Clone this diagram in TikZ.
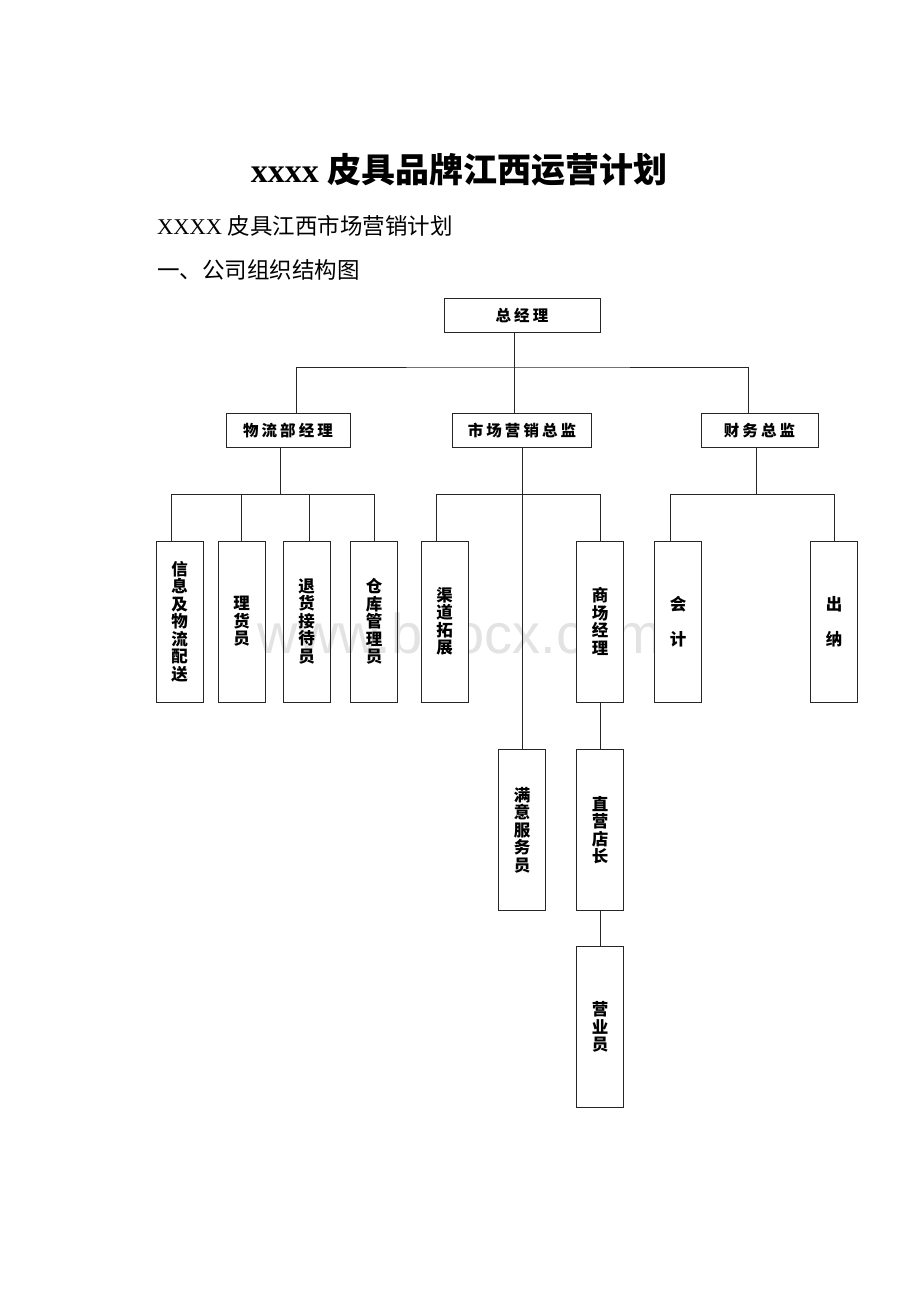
\documentclass[tikz,border=0pt]{standalone}
\usepackage{fontspec}
\setmainfont{Liberation Serif}
\newfontfamily\cjk{Noto Sans CJK SC}
\newfontfamily\cjkwide[LetterSpace=20]{Noto Sans CJK SC}
\newfontfamily\wmfont{Liberation Sans}
\usetikzlibrary{positioning}

\begin{document}
\begin{tikzpicture}[x=1pt,y=-1pt]
\tikzset{hd/.style={draw=black!85, line width=0.9pt, minimum height=34pt, inner sep=0pt, font=\cjkwide\bfseries\fontsize{15.5}{17}\selectfont}}
\tikzset{col/.style={draw=black!85, line width=0.9pt, minimum width=47pt, minimum height=161pt, inner sep=0pt, align=center, font=\cjk\bfseries\fontsize{16.5}{17.5}\selectfont}}
\tikzset{wf/.style={fill=white}}
\tikzset{ln/.style={draw=black!85, line width=0.8pt}}

\fill[white] (0,0) rectangle (920,1302);
\useasboundingbox (0,0) rectangle (920,1302);

% watermark
\node[text=black!11, font=\wmfont\fontsize{56}{60}\selectfont] (wm) at (460,633) {www.bdocx.com};

% headings
\node[inner sep=0pt] (title) at (459,170) {\fontsize{34}{40}\selectfont\bfseries xxxx {\cjk 皮具品牌江西运营计划}};
\node[anchor=west, inner sep=0pt] (sub) at (157,226) {\fontsize{22.5}{26}\selectfont XXXX {\cjk 皮具江西市场营销计划}};
\node[anchor=west, inner sep=0pt] (sec) at (157,270) {\cjk\fontsize{22.5}{26}\selectfont 一、公司组织结构图};

% upper boxes
\node[hd, minimum width=156pt] (gm) at (522,315) {总经理};
\node[hd, minimum width=124pt] (wl) at (288,430.5) {物流部经理};
\node[hd, minimum width=139pt] (mk) at (522,430.5) {市场营销总监};
\node[hd, minimum width=117pt] (fn) at (759.5,430.5) {财务总监};

% columns
\node[col] (info) at (179.5,621.5) {信\\息\\及\\物\\流\\配\\送};
\node[col] (tally) at (241.5,621.5) {理\\货\\员};
\node[col] (recv) at (306.5,621.5) {退\\货\\接\\待\\员};
\node[col] (store) at (374,621.5) {仓\\库\\管\\理\\员};
\node[col,wf] (chan) at (444.5,621.5) {渠\\道\\拓\\展};
\node[col,wf] (mall) at (600,621.5) {商\\场\\经\\理};
\node[col,wf] (acct) at (678,621.5) {会\\[17.5pt]计};
\node[col,wf] (cash) at (834,621.5) {出\\[17.5pt]纳};
\node[col] (serv) at (522,830) {满\\意\\服\\务\\员};
\node[col] (shop) at (600,830) {直\\营\\店\\长};
\node[col] (sale) at (600,1027) {营\\业\\员};

% connectors
\coordinate (hub) at (514,367);
\draw[ln] ([xshift=-8pt]gm.south) -- ([xshift=-8pt]mk.north);
\draw[ln] ([xshift=8pt]wl.north) |- (hub) -| ([xshift=-11.5pt]fn.north);

\draw[ln] ([xshift=-8pt]wl.south) -- ++(0,46) coordinate (lb);
\draw[ln] ([xshift=-8.5pt]info.north) |- (store.north |- lb) -- (store.north);
\draw[ln] (tally.north) -- (tally.north |- lb);
\draw[ln] ([xshift=2.5pt]recv.north) -- ([xshift=2.5pt]recv.north |- lb);

\coordinate (mb) at (522,494);
\draw[ln] (mk.south) -- (serv.north);
\draw[ln] ([xshift=-8.5pt]chan.north) |- (mall.north |- mb) -- (mall.north);
\draw[ln] (mall.south) -- (shop.north);
\draw[ln] (shop.south) -- (sale.north);

\draw[ln] ([xshift=-3.5pt]fn.south) -- ++(0,46) coordinate (fb);
\draw[ln] ([xshift=-8pt]acct.north) |- (cash.north |- fb) -- (cash.north);
\end{tikzpicture}
\end{document}
